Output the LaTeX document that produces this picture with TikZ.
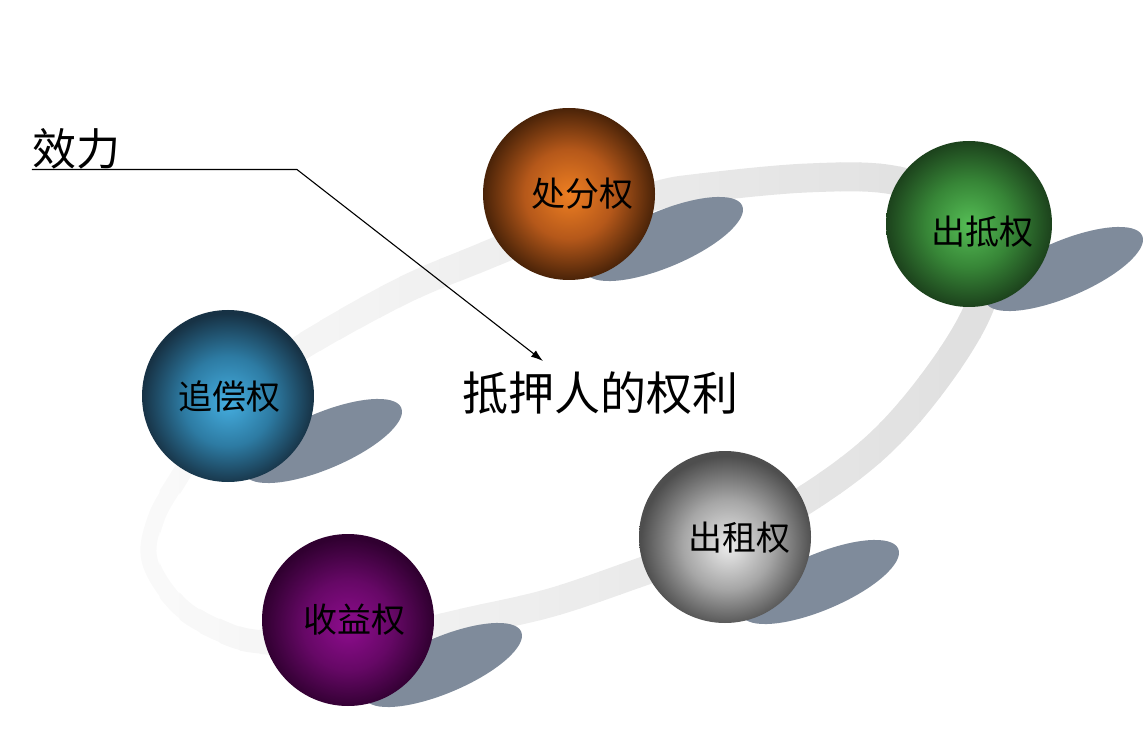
\documentclass[tikz,border=0pt]{standalone}
\usepackage{fontspec}
\newfontfamily\cjk{Noto Sans CJK SC}
\usetikzlibrary{arrows.meta}
\definecolor{shadowc}{HTML}{7F8B9B}
\definecolor{orIn}{HTML}{EE7F22}\definecolor{orMid}{HTML}{B5581A}\definecolor{orOut}{HTML}{4A2308}
\definecolor{grIn}{HTML}{55BD55}\definecolor{grMid}{HTML}{378637}\definecolor{grOut}{HTML}{1C421C}
\definecolor{blIn}{HTML}{45AEE0}\definecolor{blMid}{HTML}{2D7BA3}\definecolor{blOut}{HTML}{173245}
\definecolor{gyIn}{HTML}{EAEAEA}\definecolor{gyMid}{HTML}{A6A6A6}\definecolor{gyOut}{HTML}{4E4E4E}
\definecolor{puIn}{HTML}{8E0C8E}\definecolor{puMid}{HTML}{660866}\definecolor{puOut}{HTML}{300030}
\pgfdeclareradialshading{shOr}{\pgfpoint{0bp}{0bp}}{color(0bp)=(orIn); color(13bp)=(orMid); color(25bp)=(orOut); color(50bp)=(orOut)}
\pgfdeclareradialshading{shGr}{\pgfpoint{0bp}{0bp}}{color(0bp)=(grIn); color(13bp)=(grMid); color(25bp)=(grOut); color(50bp)=(grOut)}
\pgfdeclareradialshading{shBl}{\pgfpoint{0bp}{-2bp}}{color(0bp)=(blIn); color(13bp)=(blMid); color(25bp)=(blOut); color(50bp)=(blOut)}
\pgfdeclareradialshading{shGy}{\pgfpoint{1bp}{-3bp}}{color(0bp)=(gyIn); color(13bp)=(gyMid); color(25bp)=(gyOut); color(50bp)=(gyOut)}
\pgfdeclareradialshading{shPu}{\pgfpoint{0bp}{-2bp}}{color(0bp)=(puIn); color(13bp)=(puMid); color(25bp)=(puOut); color(50bp)=(puOut)}
\def\ringpath{plot[smooth cycle, tension=0.6] coordinates {(700,188) (807,178) (893,180) (955,205) (988,255) (978,310) (935,380) (876,447) (800,503) (720,545) (647,570) (553,602) (470,621) (400,636) (330,643) (262,642) (225,633) (180,607) (150,562) (155,520) (177,480) (215,423) (255,383) (300,348) (400,292) (480,258) (570,222) (655,196)}}
\tikzset{
  sph/.style={circle, minimum size=172pt, inner sep=0pt, shade},
  lbl/.style={font=\cjk\fontsize{34pt}{34pt}\selectfont, inner sep=0pt, text=black},
  shadowfill/.style={fill=shadowc},
  conn/.style={line width=1.1pt, draw=black}
}
\begin{document}
\begin{tikzpicture}[x=1pt,y=-1pt]
\useasboundingbox (0,0) rectangle (1146,751);
% ring
\foreach \i in {0,...,44} {
  \pgfmathsetmacro\xa{120+20*\i}
  \pgfmathsetmacro\xm{\xa+10}
  \pgfmathsetmacro\w{29-14*exp(-max(\xm-140,0)/120)}
  \pgfmathsetmacro\g{min(12,max(2.2,2.2+9.8*(\xm-150)/800))}
  \begin{scope}
    \clip (\xa-0.5,0) rectangle (\xa+20.5,751);
    \draw[line width=\w pt, color=black!\g] \ringpath;
  \end{scope}
}
% shadows
\fill[shadowfill, rotate around={23:(664,239)}] (664,239) ellipse [x radius=85, y radius=28];
\fill[shadowfill, rotate around={23:(1064,269)}] (1064,269) ellipse [x radius=85, y radius=28];
\fill[shadowfill, rotate around={23:(323,441)}] (323,441) ellipse [x radius=85, y radius=28];
\fill[shadowfill, rotate around={23:(820,582)}] (820,582) ellipse [x radius=85, y radius=28];
\fill[shadowfill, rotate around={23:(443,665)}] (443,665) ellipse [x radius=85, y radius=28];
% spheres
\node[sph, shading=shOr] (s1) at (569,194) {};
\node[sph, shading=shGr, minimum size=166pt] (s2) at (969,224) {};
\node[sph, shading=shBl] (s3) at (228,396) {};
\node[sph, shading=shGy] (s4) at (725,537) {};
\node[sph, shading=shPu] (s5) at (348,620) {};
% labels
\node[lbl] (t1) at (582,194) {处分权};
\node[lbl] (t2) at (982,232) {出抵权};
\node[lbl] (t3) at (229,397) {追偿权};
\node[lbl] (t4) at (739,538) {出租权};
\node[lbl] (t5) at (354,620) {收益权};
% main text
\node[font=\cjk\fontsize{46pt}{46pt}\selectfont, inner sep=0pt] (main) at (600,393) {抵押人的权利};
\node[font=\cjk\fontsize{44pt}{44pt}\selectfont, inner sep=0pt] (xl) at (76,149) {效力};
\coordinate (bend) at (297,170);
\coordinate (tip) at (543,361);
\draw[conn, -{Latex[length=12pt,width=8pt]}] (xl.south west) -- (xl.south west -| bend) -- (tip);
\end{tikzpicture}
\end{document}
